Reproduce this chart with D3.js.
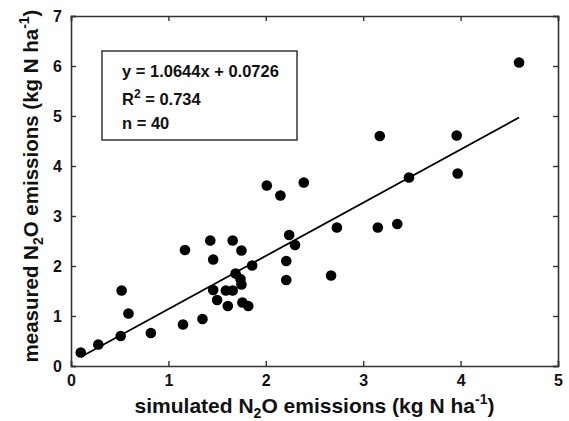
<!DOCTYPE html>
<html>
<head>
<meta charset="utf-8">
<style>
  body { margin: 0; background: #fff; }
  text { font-family: "Liberation Sans", Arial, Helvetica, sans-serif; font-weight: bold; }
</style>
</head>
<body>
<svg width="569" height="421"></svg>
<script src="https://d3js.org/d3.v7.min.js"></script>
<script>
// simulated vs measured N2O emissions (kg N ha-1)
const simulated = [0.10, 0.28, 0.52, 0.51, 0.59, 0.82, 1.15, 1.35, 1.46, 1.50,
                   1.59, 1.66, 1.61, 1.75, 1.74, 1.76, 1.82, 2.21, 1.17, 1.43,
                   1.46, 1.66, 1.75, 1.69, 1.86, 2.01, 2.15, 2.39, 2.24, 2.30,
                   2.21, 2.73, 2.67, 3.15, 3.35, 3.47, 3.97, 3.17, 3.96, 4.60];
const measured  = [0.27, 0.43, 1.51, 0.60, 1.05, 0.66, 0.83, 0.94, 1.52, 1.32,
                   1.51, 1.51, 1.20, 1.63, 1.74, 1.27, 1.20, 1.72, 2.32, 2.51,
                   2.13, 2.51, 2.31, 1.85, 2.01, 3.61, 3.41, 3.67, 2.62, 2.42,
                   2.10, 2.77, 1.81, 2.77, 2.84, 3.77, 3.85, 4.60, 4.61, 6.07];
const slope = 1.0644, intercept = 0.0726;
const fitRange = [0.1, 4.6];
const xTicks = [0, 1, 2, 3, 4, 5];
const yTicks = [0, 1, 2, 3, 4, 5, 6, 7];

const data = simulated.map((s, i) => ({x: s, y: measured[i]}));

const mLeft = 71, mRight = 558, mTop = 16, mBottom = 366;
const svg = d3.select("svg");

const x = d3.scaleLinear().domain([0, 5]).range([mLeft, mRight]);
const y = d3.scaleLinear().domain([0, 7]).range([mBottom, mTop]);

const axisColor = "#333";

// axes with inward ticks on all four sides
const gx = svg.append("g").attr("transform", `translate(0,${mBottom})`)
  .call(d3.axisBottom(x).tickValues(xTicks).tickSize(-5).tickPadding(9).tickFormat(d3.format("d")));
const gxTop = svg.append("g").attr("transform", `translate(0,${mTop})`)
  .call(d3.axisTop(x).tickValues(xTicks).tickSize(-5).tickFormat(""));
const gy = svg.append("g").attr("transform", `translate(${mLeft},0)`)
  .call(d3.axisLeft(y).tickValues(yTicks).tickSize(-5).tickPadding(9).tickFormat(d3.format("d")));
const gyRight = svg.append("g").attr("transform", `translate(${mRight},0)`)
  .call(d3.axisRight(y).tickValues(yTicks).tickSize(-5).tickFormat(""));

[gx, gxTop, gy, gyRight].forEach(g => {
  g.select(".domain").attr("stroke", axisColor).attr("stroke-width", 1.6);
  g.selectAll(".tick line").attr("stroke", axisColor).attr("stroke-width", 1.4);
  g.selectAll("text").attr("fill", "#111").attr("font-size", 16)
    .attr("font-family", "Liberation Sans, Arial, sans-serif").attr("font-weight", "bold");
});

// fit line
svg.append("line")
  .attr("x1", x(fitRange[0])).attr("y1", y(slope * fitRange[0] + intercept))
  .attr("x2", x(fitRange[1])).attr("y2", y(slope * fitRange[1] + intercept))
  .attr("stroke", "#000").attr("stroke-width", 1.8);

// points
svg.selectAll(".pt").data(data).enter().append("circle")
  .attr("class", "pt")
  .attr("cx", d => x(d.x)).attr("cy", d => y(d.y))
  .attr("r", 5.3).attr("fill", "#000");

// stats box
svg.append("rect")
  .attr("x", 102).attr("y", 51).attr("width", 195).attr("height", 89)
  .attr("fill", "#fff").attr("stroke", axisColor).attr("stroke-width", 1.5);
const stats = svg.append("g").attr("font-size", 16.5).attr("fill", "#111");
stats.append("text").attr("x", 122).attr("y", 77).text("y = 1.0644x + 0.0726");
const r2 = stats.append("text").attr("x", 122).attr("y", 105);
r2.append("tspan").text("R");
r2.append("tspan").attr("dy", -7).attr("font-size", 12).text("2");
r2.append("tspan").attr("dy", 7).text(" = 0.734");
stats.append("text").attr("x", 122).attr("y", 128.5).text("n = 40");

// axis titles
const xt = svg.append("text").attr("x", (mLeft + mRight) / 2).attr("y", 413)
  .attr("text-anchor", "middle").attr("font-size", 21).attr("fill", "#111");
xt.append("tspan").text("simulated N");
xt.append("tspan").attr("dy", 5).attr("font-size", 14).text("2");
xt.append("tspan").attr("dy", -5).text("O emissions (kg N ha");
xt.append("tspan").attr("dy", -9).attr("font-size", 14).text("-1");
xt.append("tspan").attr("dy", 9).text(")");

const yt = svg.append("text")
  .attr("transform", "translate(38,186) rotate(-90)")
  .attr("text-anchor", "middle").attr("font-size", 20.5).attr("fill", "#111");
yt.append("tspan").text("measured N");
yt.append("tspan").attr("dy", 5).attr("font-size", 14).text("2");
yt.append("tspan").attr("dy", -5).text("O emissions (kg N ha");
yt.append("tspan").attr("dy", -9).attr("font-size", 14).text("-1");
yt.append("tspan").attr("dy", 9).text(")");
</script>
</body>
</html>
